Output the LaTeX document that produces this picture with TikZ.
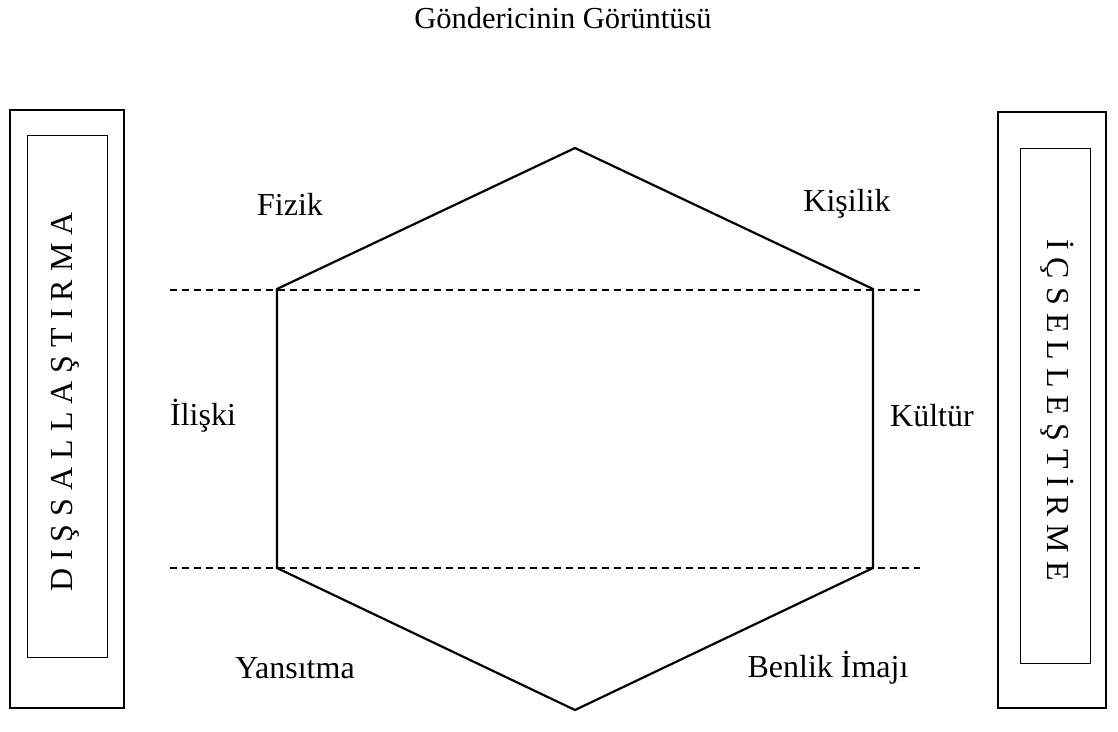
\documentclass[tikz,border=0pt]{standalone}
\usepackage{fontspec}
\setmainfont{Liberation Serif}
\begin{document}
\begin{tikzpicture}[x=1pt,y=-1pt,
  lbl/.style={font=\fontsize{32}{36}\selectfont, inner sep=0pt},
  vlbl/.style={font=\fontsize{32}{36}\selectfont, inner sep=0pt},
  hexline/.style={line width=2.2pt, line join=miter},
  outerbox/.style={line width=2.2pt},
  innerbox/.style={line width=0.9pt},
  guide/.style={line width=1.3pt, dash pattern=on 7pt off 5pt}]
\useasboundingbox (0,0) rectangle (1118,731);
% title
\node[font=\fontsize{30.5}{34}\selectfont, inner sep=0pt] (title) at (563,18) {Göndericinin Görüntüsü};
% side boxes
\draw[outerbox] (10,110) rectangle (124,708);
\draw[innerbox] (27,135) rectangle (107,657);
\node[vlbl, rotate=90] (dis) at (65,402) {D I Ş S A L L A Ş T I R M A};
\draw[outerbox] (998,112) rectangle (1106,708);
\draw[innerbox] (1020,148) rectangle (1090,663);
\node[vlbl, rotate=-90] (ic) at (1057,410) {İ Ç S E L L E Ş T İ R M E};
% guides
\coordinate (g1a) at (170,290);
\coordinate (g1b) at (920,290);
\coordinate (g2a) at (170,568);
\coordinate (g2b) at (920,568);
\draw[guide] (g1a) -- (g1b);
\draw[guide] (g2a) -- (g2b);
% hexagon
\coordinate (ht) at (575,148);
\coordinate (hur) at (873,289);
\coordinate (hlr) at (873,568);
\coordinate (hb) at (575,710);
\coordinate (hll) at (277,568);
\coordinate (hul) at (277,289);
\draw[hexline] (ht) -- (hur) -- (hlr) -- (hb) -- (hll) -- (hul) -- cycle;
% labels
\node[lbl] (fizik) at (290,204) {Fizik};
\node[lbl] (kisilik) at (847,204) {Kişilik};
\node[lbl] (iliski) at (203,416) {İlişki};
\node[lbl] (kultur) at (932,416) {Kültür};
\node[lbl] (yans) at (295,668) {Yansıtma};
\node[lbl] (benlik) at (828,668) {Benlik İmajı};
\end{tikzpicture}
\end{document}
